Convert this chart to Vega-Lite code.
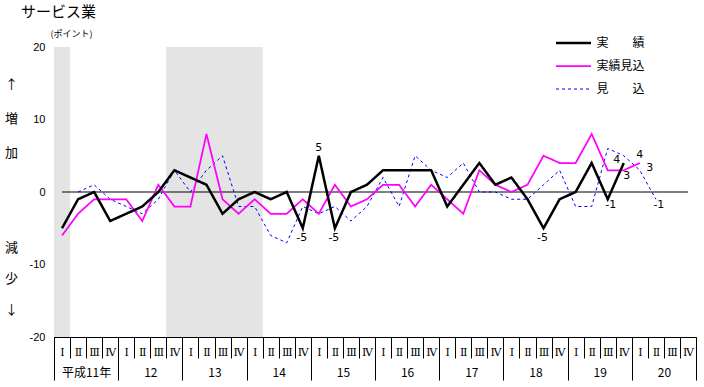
{
  "$schema": "https://vega.github.io/schema/vega-lite/v6.json",
  "width": 642,
  "height": 290,
  "autosize": "none",
  "padding": {"left": 54, "top": 47, "right": 8, "bottom": 50},
  "background": "white",
  "title": {"text": "サービス業", "anchor": "start", "frame": "group", "dx": -33, "offset": 9, "font": "Noto Sans CJK JP", "fontSize": 15, "fontWeight": "normal", "color": "black"},
  "config": {"view": {"stroke": null}, "axis": {"domainColor": "black", "tickColor": "black", "labelColor": "black", "titleColor": "black", "grid": false}},
  "datasets": {
    "shade": [{"s": -0.5, "e": 0.5}, {"s": 6.5, "e": 12.5}],
    "zero": [{"a": 0, "b": 39, "v": 0}],
    "main": [
      {"i": 1, "s": "見　　込", "v": 0}, {"i": 2, "s": "見　　込", "v": 1}, {"i": 3, "s": "見　　込", "v": -1}, {"i": 4, "s": "見　　込", "v": -2}, {"i": 5, "s": "見　　込", "v": -3}, {"i": 6, "s": "見　　込", "v": -1}, {"i": 7, "s": "見　　込", "v": 3}, {"i": 8, "s": "見　　込", "v": 0}, {"i": 9, "s": "見　　込", "v": 3}, {"i": 10, "s": "見　　込", "v": 5}, {"i": 11, "s": "見　　込", "v": -2}, {"i": 12, "s": "見　　込", "v": -2}, {"i": 13, "s": "見　　込", "v": -6}, {"i": 14, "s": "見　　込", "v": -7}, {"i": 15, "s": "見　　込", "v": -2}, {"i": 16, "s": "見　　込", "v": -3}, {"i": 17, "s": "見　　込", "v": -2}, {"i": 18, "s": "見　　込", "v": -4}, {"i": 19, "s": "見　　込", "v": -2}, {"i": 20, "s": "見　　込", "v": 2}, {"i": 21, "s": "見　　込", "v": -2}, {"i": 22, "s": "見　　込", "v": 5}, {"i": 23, "s": "見　　込", "v": 3}, {"i": 24, "s": "見　　込", "v": 2}, {"i": 25, "s": "見　　込", "v": 4}, {"i": 26, "s": "見　　込", "v": 0}, {"i": 27, "s": "見　　込", "v": 0}, {"i": 28, "s": "見　　込", "v": -1}, {"i": 29, "s": "見　　込", "v": -1}, {"i": 30, "s": "見　　込", "v": 1}, {"i": 31, "s": "見　　込", "v": 3}, {"i": 32, "s": "見　　込", "v": -2}, {"i": 33, "s": "見　　込", "v": -2}, {"i": 34, "s": "見　　込", "v": 6}, {"i": 35, "s": "見　　込", "v": 5}, {"i": 36, "s": "見　　込", "v": 3}, {"i": 37, "s": "見　　込", "v": -1},
      {"i": 0, "s": "実績見込", "v": -6}, {"i": 1, "s": "実績見込", "v": -3}, {"i": 2, "s": "実績見込", "v": -1}, {"i": 3, "s": "実績見込", "v": -1}, {"i": 4, "s": "実績見込", "v": -1}, {"i": 5, "s": "実績見込", "v": -4}, {"i": 6, "s": "実績見込", "v": 1}, {"i": 7, "s": "実績見込", "v": -2}, {"i": 8, "s": "実績見込", "v": -2}, {"i": 9, "s": "実績見込", "v": 8}, {"i": 10, "s": "実績見込", "v": -1}, {"i": 11, "s": "実績見込", "v": -3}, {"i": 12, "s": "実績見込", "v": -1}, {"i": 13, "s": "実績見込", "v": -3}, {"i": 14, "s": "実績見込", "v": -3}, {"i": 15, "s": "実績見込", "v": -1}, {"i": 16, "s": "実績見込", "v": -3}, {"i": 17, "s": "実績見込", "v": 1}, {"i": 18, "s": "実績見込", "v": -2}, {"i": 19, "s": "実績見込", "v": -1}, {"i": 20, "s": "実績見込", "v": 1}, {"i": 21, "s": "実績見込", "v": 1}, {"i": 22, "s": "実績見込", "v": -2}, {"i": 23, "s": "実績見込", "v": 1}, {"i": 24, "s": "実績見込", "v": -1}, {"i": 25, "s": "実績見込", "v": -3}, {"i": 26, "s": "実績見込", "v": 3}, {"i": 27, "s": "実績見込", "v": 1}, {"i": 28, "s": "実績見込", "v": 0}, {"i": 29, "s": "実績見込", "v": 1}, {"i": 30, "s": "実績見込", "v": 5}, {"i": 31, "s": "実績見込", "v": 4}, {"i": 32, "s": "実績見込", "v": 4}, {"i": 33, "s": "実績見込", "v": 8}, {"i": 34, "s": "実績見込", "v": 3}, {"i": 35, "s": "実績見込", "v": 3}, {"i": 36, "s": "実績見込", "v": 4},
      {"i": 0, "s": "実　　績", "v": -5}, {"i": 1, "s": "実　　績", "v": -1}, {"i": 2, "s": "実　　績", "v": 0}, {"i": 3, "s": "実　　績", "v": -4}, {"i": 4, "s": "実　　績", "v": -3}, {"i": 5, "s": "実　　績", "v": -2}, {"i": 6, "s": "実　　績", "v": 0}, {"i": 7, "s": "実　　績", "v": 3}, {"i": 8, "s": "実　　績", "v": 2}, {"i": 9, "s": "実　　績", "v": 1}, {"i": 10, "s": "実　　績", "v": -3}, {"i": 11, "s": "実　　績", "v": -1}, {"i": 12, "s": "実　　績", "v": 0}, {"i": 13, "s": "実　　績", "v": -1}, {"i": 14, "s": "実　　績", "v": 0}, {"i": 15, "s": "実　　績", "v": -5}, {"i": 16, "s": "実　　績", "v": 5}, {"i": 17, "s": "実　　績", "v": -5}, {"i": 18, "s": "実　　績", "v": 0}, {"i": 19, "s": "実　　績", "v": 1}, {"i": 20, "s": "実　　績", "v": 3}, {"i": 21, "s": "実　　績", "v": 3}, {"i": 22, "s": "実　　績", "v": 3}, {"i": 23, "s": "実　　績", "v": 3}, {"i": 24, "s": "実　　績", "v": -2}, {"i": 25, "s": "実　　績", "v": 1}, {"i": 26, "s": "実　　績", "v": 4}, {"i": 27, "s": "実　　績", "v": 1}, {"i": 28, "s": "実　　績", "v": 2}, {"i": 29, "s": "実　　績", "v": -1}, {"i": 30, "s": "実　　績", "v": -5}, {"i": 31, "s": "実　　績", "v": -1}, {"i": 32, "s": "実　　績", "v": 0}, {"i": 33, "s": "実　　績", "v": 4}, {"i": 34, "s": "実　　績", "v": -1}, {"i": 35, "s": "実　　績", "v": 4}
    ],
    "lblBelow": [{"i": 15, "v": -5, "t": "-5"}, {"i": 17, "v": -5, "t": "-5"}, {"i": 30, "v": -5, "t": "-5"}],
    "lblBelowRight": [{"i": 34, "v": -1, "t": "-1"}, {"i": 37, "v": -1, "t": "-1"}, {"i": 35, "v": 3, "t": "3"}],
    "lblAbove": [{"i": 16, "v": 5, "t": "5"}, {"i": 36, "v": 4, "t": "4"}],
    "lblLeft": [{"i": 35, "v": 4, "t": "4"}],
    "lblRight": [{"i": 36, "v": 3, "t": "3"}]
  },
  "resolve": {"axis": {"x": "independent", "y": "independent"}},
  "layer": [
    {
      "data": {"name": "shade"},
      "mark": {"type": "rect", "fill": "#e4e4e4"},
      "encoding": {
        "x": {"field": "s", "type": "quantitative", "scale": {"domain": [-0.5, 39.5], "nice": false, "zero": false},
          "axis": {"orient": "bottom", "values": [-0.5, 3.5, 7.5, 11.5, 15.5, 19.5, 23.5, 27.5, 31.5, 35.5, 39.5], "labels": false, "ticks": true, "tickSize": 43, "domain": true, "title": null}},
        "x2": {"field": "e"},
        "y": {"datum": 20, "type": "quantitative", "scale": {"domain": [-20, 20], "nice": false, "zero": false},
          "axis": {"orient": "left", "values": [-20, -10, 0, 10, 20], "labelExpr": "'' + datum.value", "ticks": false, "labelPadding": 9, "domain": true, "labelFont": "Liberation Sans", "labelFontSize": 11, "title": "(ポイント)", "titleAngle": 0, "titleAlign": "left", "titleBaseline": "middle", "titleX": -4, "titleY": -14, "titleFont": "Noto Sans CJK JP", "titleFontSize": 9, "titleFontWeight": "normal"}},
        "y2": {"datum": -20}
      }
    },
    {
      "data": {"name": "zero"},
      "mark": {"type": "rule", "color": "black", "strokeWidth": 1.2},
      "encoding": {
        "x": {"field": "a", "type": "quantitative",
          "axis": {"orient": "bottom", "values": [-0.5, 0.5, 1.5, 2.5, 3.5, 4.5, 5.5, 6.5, 7.5, 8.5, 9.5, 10.5, 11.5, 12.5, 13.5, 14.5, 15.5, 16.5, 17.5, 18.5, 19.5, 20.5, 21.5, 22.5, 23.5, 24.5, 25.5, 26.5, 27.5, 28.5, 29.5, 30.5, 31.5, 32.5, 33.5, 34.5, 35.5, 36.5, 37.5, 38.5, 39.5], "labels": false, "ticks": true, "tickSize": 21, "domain": false, "title": null}},
        "x2": {"field": "b"},
        "y": {"field": "v", "type": "quantitative",
          "axis": {"orient": "left", "title": ["↑", "増", "加"], "labels": false, "ticks": false, "domain": false, "titleAngle": 0, "titleAlign": "center", "titleBaseline": "middle", "titleX": -43, "titleY": 37, "titleLineHeight": 34, "titleFont": "Noto Sans CJK JP", "titleFontSize": 13, "titleFontWeight": "normal"}}
      }
    },
    {
      "data": {"name": "main"},
      "mark": {"type": "line", "strokeJoin": "miter"},
      "encoding": {
        "x": {"field": "i", "type": "quantitative",
          "axis": {"orient": "bottom", "values": [0, 1, 2, 3, 4, 5, 6, 7, 8, 9, 10, 11, 12, 13, 14, 15, 16, 17, 18, 19, 20, 21, 22, 23, 24, 25, 26, 27, 28, 29, 30, 31, 32, 33, 34, 35, 36, 37, 38, 39], "labelExpr": "['Ⅰ','Ⅱ','Ⅲ','Ⅳ'][datum.value % 4]", "ticks": false, "domain": false, "labelPadding": 15, "labelBaseline": "middle", "labelAlign": "center", "labelFlush": false, "labelOverlap": false, "labelFont": "DejaVu Serif", "labelFontSize": 11, "title": null}},
        "y": {"field": "v", "type": "quantitative",
          "axis": {"orient": "left", "title": ["減", "少", "↓"], "labels": false, "ticks": false, "domain": false, "titleAngle": 0, "titleAlign": "center", "titleBaseline": "middle", "titleX": -43, "titleY": 200, "titleLineHeight": 31, "titleFont": "Noto Sans CJK JP", "titleFontSize": 13, "titleFontWeight": "normal"}},
        "color": {"field": "s", "type": "nominal", "scale": {"domain": ["実　　績", "実績見込", "見　　込"], "range": ["#000000", "#ff00ff", "#0000ff"]},
          "legend": {"orient": "none", "legendX": 502, "legendY": -10, "title": null, "symbolType": "M-5,0H5", "symbolSize": 49, "symbolOffset": 11.5, "labelOffset": 17, "rowPadding": 11, "labelFont": "Noto Sans CJK JP", "labelFontSize": 12, "labelColor": "black"}},
        "strokeDash": {"field": "s", "type": "nominal", "scale": {"domain": ["実　　績", "実績見込", "見　　込"], "range": [[1, 0], [1, 0], [3, 3]]}},
        "strokeWidth": {"field": "s", "type": "nominal", "scale": {"domain": ["実　　績", "実績見込", "見　　込"], "range": [2.5, 1, 1]}}
      }
    },
    {
      "data": {"name": "lblBelow"},
      "mark": {"type": "text", "dx": -1, "dy": 10, "font": "DejaVu Sans", "fontSize": 11, "color": "black"},
      "encoding": {
        "x": {"field": "i", "type": "quantitative",
          "axis": {"orient": "bottom", "values": [1.5, 5.5, 9.5, 13.5, 17.5, 21.5, 25.5, 29.5, 33.5, 37.5], "labelExpr": "datum.value < 2 ? '平成11年' : '' + (floor(datum.value / 4) + 11)", "ticks": false, "domain": false, "labelPadding": 35, "labelBaseline": "middle", "labelAlign": "center", "labelFlush": false, "labelOverlap": false, "labelFont": "Noto Sans CJK JP", "labelFontSize": 12, "title": null}},
        "y": {"field": "v", "type": "quantitative", "axis": null},
        "text": {"field": "t"}
      }
    },
    {
      "data": {"name": "lblBelowRight"},
      "mark": {"type": "text", "dx": 3, "dy": 6, "font": "DejaVu Sans", "fontSize": 11, "color": "black"},
      "encoding": {
        "x": {"field": "i", "type": "quantitative", "axis": null},
        "y": {"field": "v", "type": "quantitative", "axis": null},
        "text": {"field": "t"}
      }
    },
    {
      "data": {"name": "lblAbove"},
      "mark": {"type": "text", "dx": 0, "dy": -8, "font": "DejaVu Sans", "fontSize": 11, "color": "black"},
      "encoding": {
        "x": {"field": "i", "type": "quantitative", "axis": null},
        "y": {"field": "v", "type": "quantitative", "axis": null},
        "text": {"field": "t"}
      }
    },
    {
      "data": {"name": "lblLeft"},
      "mark": {"type": "text", "dx": -7, "dy": -3, "font": "DejaVu Sans", "fontSize": 11, "color": "black"},
      "encoding": {
        "x": {"field": "i", "type": "quantitative", "axis": null},
        "y": {"field": "v", "type": "quantitative", "axis": null},
        "text": {"field": "t"}
      }
    },
    {
      "data": {"name": "lblRight"},
      "mark": {"type": "text", "dx": 10, "dy": -2, "font": "DejaVu Sans", "fontSize": 11, "color": "black"},
      "encoding": {
        "x": {"field": "i", "type": "quantitative", "axis": null},
        "y": {"field": "v", "type": "quantitative", "axis": null},
        "text": {"field": "t"}
      }
    }
  ]
}
